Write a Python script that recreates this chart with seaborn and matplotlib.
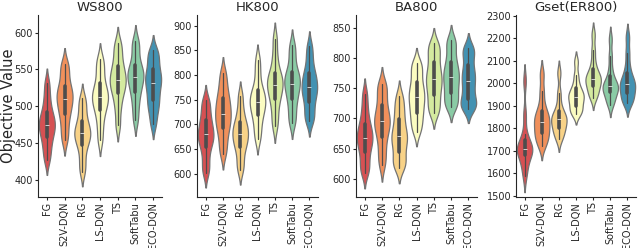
import numpy as np
import pandas as pd
import matplotlib
matplotlib.use("Agg")
import matplotlib.pyplot as plt
import seaborn as sns

methods = ["FG", "S2V-DQN", "RG", "LS-DQN", "TS", "SoftTabu", "ECO-DQN"]
titles = ["WS800", "HK800", "BA800", "Gset(ER800)"]

# objective values (12 per method, roughly the spread of each violin)
ws800 = [
    [427, 440, 451, 460, 467, 472, 478, 483, 490, 500, 514, 531],
    [454, 468, 482, 492, 500, 507, 513, 519, 525, 535, 548, 558],
    [411, 425, 440, 450, 456, 461, 466, 471, 478, 488, 500, 511],
    [454, 472, 487, 497, 504, 510, 515, 521, 528, 540, 553, 564],
    [474, 495, 510, 520, 527, 533, 538, 545, 552, 562, 575, 586],
    [481, 498, 512, 522, 530, 537, 542, 547, 553, 563, 578, 589],
    [476, 492, 502, 511, 520, 529, 535, 541, 548, 558, 568, 576],
]
hk800 = [
    [602, 620, 642, 658, 668, 676, 684, 694, 705, 718, 735, 750],
    [641, 662, 682, 695, 707, 717, 727, 738, 750, 763, 782, 804],
    [607, 625, 645, 658, 667, 676, 684, 692, 701, 713, 732, 758],
    [670, 690, 708, 722, 732, 741, 749, 757, 766, 780, 805, 831],
    [696, 718, 740, 755, 766, 776, 784, 792, 800, 815, 840, 873],
    [702, 720, 740, 755, 767, 778, 786, 794, 803, 817, 840, 861],
    [706, 718, 735, 750, 762, 771, 779, 790, 800, 813, 835, 858],
]
ba800 = [
    [610, 620, 635, 648, 657, 665, 671, 679, 688, 700, 718, 740],
    [623, 640, 658, 673, 683, 692, 698, 707, 718, 732, 748, 757],
    [618, 625, 635, 648, 658, 667, 673, 683, 695, 708, 722, 737],
    [678, 690, 702, 712, 722, 731, 739, 747, 757, 770, 783, 792],
    [708, 718, 730, 742, 752, 761, 769, 778, 790, 803, 815, 824],
    [718, 725, 735, 745, 755, 764, 772, 780, 790, 803, 820, 830],
    [716, 720, 725, 735, 746, 757, 766, 775, 785, 800, 812, 817],
]
gset800 = [
    [1590, 1630, 1665, 1688, 1698, 1705, 1712, 1720, 1738, 1775, 1860, 2010],
    [1720, 1745, 1765, 1782, 1800, 1820, 1838, 1852, 1868, 1905, 1965, 2040],
    [1750, 1772, 1790, 1805, 1820, 1835, 1845, 1855, 1866, 1900, 1955, 2045],
    [1862, 1872, 1888, 1905, 1920, 1935, 1945, 1955, 1970, 1995, 2035, 2095],
    [1935, 1952, 1972, 1990, 2003, 2015, 2025, 2036, 2052, 2090, 2145, 2215],
    [1905, 1922, 1945, 1965, 1973, 1981, 1990, 2002, 2020, 2060, 2120, 2195],
    [1910, 1922, 1940, 1960, 1975, 1990, 2000, 2015, 2035, 2075, 2135, 2205],
]
ylims = [(377, 624), (553, 922), (570, 871), (1495, 2303)]

sns.set_style("ticks")
plt.rcParams["font.family"] = ["DejaVu Sans"]

fig = plt.figure(figsize=(6.4, 2.48), dpi=100)
lefts = [38, 197, 356, 516]
widths = [124, 121, 121, 120]

for i, data in enumerate([ws800, hk800, ba800, gset800]):
    ax = fig.add_axes([lefts[i] / 640, 0.206, widths[i] / 640, 0.734])
    df = pd.DataFrame({
        "method": np.repeat(methods, [len(v) for v in data]),
        "value": np.concatenate(data),
    })
    sns.violinplot(data=df, x="method", y="value", hue="method", order=methods,
                   palette="Spectral", saturation=0.9, legend=False, inner="box",
                   cut=2, bw_adjust=0.55, width=0.9, linewidth=0.9, linecolor="0.45",
                   inner_kws=dict(box_width=2.6, whis_width=0.9, color="0.3"),
                   ax=ax)
    ax.set_ylim(*ylims[i])
    ax.set_title(titles[i], fontsize=9.5, pad=3)
    ax.set_xlabel("")
    ax.set_ylabel("Objective Value" if i == 0 else "", fontsize=10.5)
    if i == 0:
        ax.yaxis.set_label_coords(-0.175, 0.5)
    ax.tick_params(axis="x", labelrotation=90, labelsize=7, pad=1, length=2.5)
    ax.tick_params(axis="y", labelsize=7, pad=1, length=2.5)
    sns.despine(ax=ax)

plt.savefig("out.png", dpi=100)
